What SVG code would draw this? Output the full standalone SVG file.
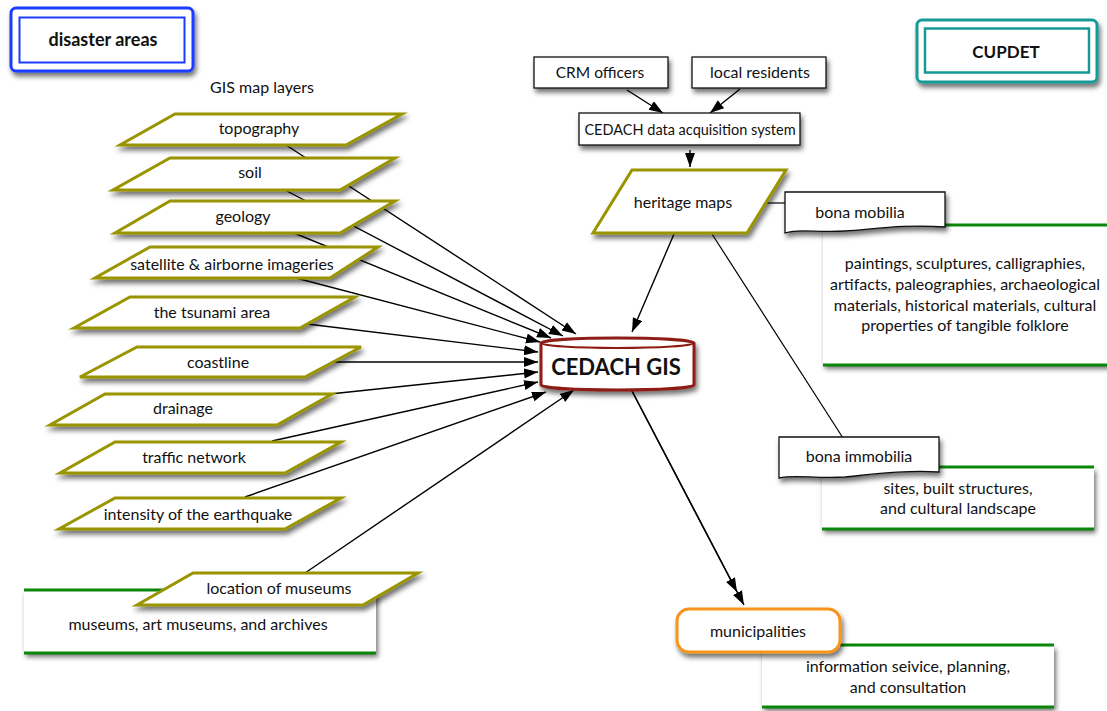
<svg xmlns="http://www.w3.org/2000/svg" width="1107" height="711" viewBox="0 0 1107 711">
<defs>
  <filter id="sh" x="-10%" y="-20%" width="130%" height="160%">
    <feDropShadow dx="2" dy="4" stdDeviation="2.5" flood-color="#000" flood-opacity="0.55"/>
  </filter>
  <marker id="ah" markerWidth="15" markerHeight="11" refX="14" refY="5" orient="auto" markerUnits="userSpaceOnUse">
    <path d="M0,0 L14,5 L0,10 Z" fill="#000"/>
  </marker>
  <style>
    text{font-family:Lato,"Open Sans","Liberation Sans",sans-serif;fill:#111;text-anchor:middle}
    .t{font-size:16px}
    .b{font-weight:bold}
    .para{fill:#fff;stroke:#9a9400;stroke-width:3;stroke-linejoin:miter;filter:url(#sh)}
    .box{fill:#fff;stroke:#111;stroke-width:1.3;filter:url(#sh)}
    .gbox{fill:#fff;filter:url(#sh)}
    .gl{stroke:#0a870a;stroke-width:3}
    .ln{fill:none;stroke:#000;stroke-width:1.2}
    .ar{fill:none;stroke:#000;stroke-width:1.4;marker-end:url(#ah)}
  </style>
</defs>
<rect width="1107" height="711" fill="#fff"/>

<g id="connectors">
  <path class="ar" d="M286,145 L576,334"/>
  <path class="ar" d="M285,190 L563,336"/>
  <path class="ar" d="M294,233 L551,338"/>
  <path class="ar" d="M296,278 L540,342"/>
  <path class="ar" d="M307,324 L538,352"/>
  <path class="ar" d="M333,362 L538,362"/>
  <path class="ar" d="M330,394 L538,372"/>
  <path class="ar" d="M272,441 L538,382"/>
  <path class="ar" d="M245,497 L546,392"/>
  <path class="ar" d="M305,573 L574,390"/>
  <path class="ar" d="M627,90 L663,113"/>
  <path class="ar" d="M740,89 L710,113"/>
  <path class="ar" d="M690,150 L690,167"/>
  <path class="ar" d="M674,234 L632,332"/>
  <path class="ln" d="M765,203 L786,203"/>
  <path class="ln" d="M712,234 L843,438"/>
  <path class="ar" d="M632,391 L737,592"/>
  <path class="ar" d="M632,391 L744,605"/>
</g>

<g id="disaster-areas">
  <rect x="11" y="8" width="182" height="63" rx="5" fill="#fff" stroke="#1a3cff" stroke-width="3" filter="url(#sh)"/>
  <rect x="19.5" y="17.5" width="165" height="45" fill="none" stroke="#1a3cff" stroke-width="2"/>
  <text class="b" x="103" y="46" style="font-size:18px">disaster areas</text>
</g>

<g id="cupdet">
  <rect x="917" y="20" width="180" height="62" rx="5" fill="#fff" stroke="#179a96" stroke-width="3" filter="url(#sh)"/>
  <rect x="925" y="28.5" width="164" height="44" fill="none" stroke="#179a96" stroke-width="2.5"/>
  <text class="b" x="1006" y="58" style="font-size:17px">CUPDET</text>
</g>

<g id="gis-label"><text class="t" x="262" y="93">GIS map layers</text></g>

<g id="topography">
  <polygon class="para" points="175,114 402,114 346,145 120,145"/>
  <text class="t" x="259" y="134">topography</text>
</g>
<g id="soil">
  <polygon class="para" points="170,158 395,158 340,190 113,190"/>
  <text class="t" x="250" y="178">soil</text>
</g>
<g id="geology">
  <polygon class="para" points="170,201 395,201 340,233 115,233"/>
  <text class="t" x="243" y="222">geology</text>
</g>
<g id="satellite">
  <polygon class="para" points="150,247 378,247 330,278 95,278"/>
  <text class="t" x="232" y="270">satellite &amp; airborne imageries</text>
</g>
<g id="tsunami">
  <polygon class="para" points="130,297 355,297 300,328 74,328"/>
  <text class="t" x="212" y="318">the tsunami area</text>
</g>
<g id="coastline">
  <polygon class="para" points="137,347 361,347 305,377 80,377"/>
  <text class="t" x="218" y="368">coastline</text>
</g>
<g id="drainage">
  <polygon class="para" points="105,394 332,394 277,425 50,425"/>
  <text class="t" x="183" y="414">drainage</text>
</g>
<g id="traffic">
  <polygon class="para" points="115,442 341,442 285,473 60,473"/>
  <text class="t" x="194" y="463">traffic network</text>
</g>
<g id="intensity">
  <polygon class="para" points="115,498 341,498 285,529 59,529"/>
  <text class="t" x="198" y="520">intensity of the earthquake</text>
</g>

<g id="museums">
  <rect class="gbox" x="24" y="590" width="352" height="63"/>
  <line class="gl" x1="24" y1="590" x2="376" y2="590"/>
  <line class="gl" x1="24" y1="653" x2="376" y2="653"/>
  <text class="t" x="198" y="630">museums, art museums, and archives</text>
</g>
<g id="location-museums">
  <polygon class="para" points="193,573 418,573 363,605 137,605"/>
  <text class="t" x="279" y="594">location of museums</text>
</g>

<g id="crm-officers">
  <rect class="box" x="534" y="57" width="134" height="31"/>
  <text class="t" x="600" y="78" style="font-size:15.5px">CRM officers</text>
</g>
<g id="local-residents">
  <rect class="box" x="692" y="57" width="134" height="31"/>
  <text class="t" x="760" y="78">local residents</text>
</g>
<g id="data-acquisition">
  <rect class="box" x="579" y="113" width="221" height="32"/>
  <text class="t" x="690" y="135" style="font-size:14.5px">CEDACH data acquisition system</text>
</g>
<g id="heritage-maps">
  <polygon class="para" points="632,170 786,170 747,233 593,233"/>
  <text class="t" x="683" y="208">heritage maps</text>
</g>

<g id="cedach-gis">
  <path d="M541,343 A76.5,5 0 0 1 694,343 V385 A76.5,5 0 0 1 541,385 Z" fill="#fff" stroke="#8e1b12" stroke-width="3" filter="url(#sh)"/>
  <path d="M541,343 A76.5,5 0 0 0 694,343" fill="none" stroke="#8e1b12" stroke-width="2"/>
  <text class="b" x="616" y="375" style="font-size:22px">CEDACH GIS</text>
</g>

<g id="bona-mobilia-desc">
  <rect class="gbox" x="823" y="225" width="290" height="140"/>
  <line class="gl" x1="823" y1="225" x2="1107" y2="225"/>
  <line class="gl" x1="823" y1="365" x2="1107" y2="365"/>
  <text class="t" x="965" y="269">paintings, sculptures, calligraphies,</text>
  <text class="t" x="965" y="290">artifacts, paleographies, archaeological</text>
  <text class="t" x="965" y="311">materials, historical materials, cultural</text>
  <text class="t" x="965" y="331">properties of tangible folklore</text>
</g>
<g id="bona-mobilia">
  <path d="M785,192 H945 V227 C905,224 875,229 845,231 C815,233 800,228 785,233 Z" fill="#fff" stroke="#111" stroke-width="1.3" filter="url(#sh)"/>
  <text class="t" x="860" y="218">bona mobilia</text>
</g>

<g id="bona-immobilia-desc">
  <rect class="gbox" x="822" y="467" width="272" height="62"/>
  <line class="gl" x1="822" y1="467" x2="1094" y2="467"/>
  <line class="gl" x1="822" y1="529" x2="1094" y2="529"/>
  <text class="t" x="958" y="494">sites, built structures,</text>
  <text class="t" x="958" y="514">and cultural landscape</text>
</g>
<g id="bona-immobilia">
  <path d="M779,437 H939 V472 C905,470 875,474 845,477 C815,479 795,474 779,478 Z" fill="#fff" stroke="#111" stroke-width="1.3" filter="url(#sh)"/>
  <text class="t" x="859" y="462">bona immobilia</text>
</g>

<g id="municipalities-desc">
  <rect class="gbox" x="762" y="645" width="292" height="62"/>
  <line class="gl" x1="762" y1="645" x2="1054" y2="645"/>
  <line class="gl" x1="762" y1="707" x2="1054" y2="707"/>
  <text class="t" x="908" y="672">information seivice, planning,</text>
  <text class="t" x="908" y="693">and consultation</text>
</g>
<g id="municipalities">
  <rect x="677" y="609" width="163" height="43" rx="12" fill="#fff" stroke="#f7941d" stroke-width="3" filter="url(#sh)"/>
  <text class="t" x="758" y="637">municipalities</text>
</g>
</svg>
